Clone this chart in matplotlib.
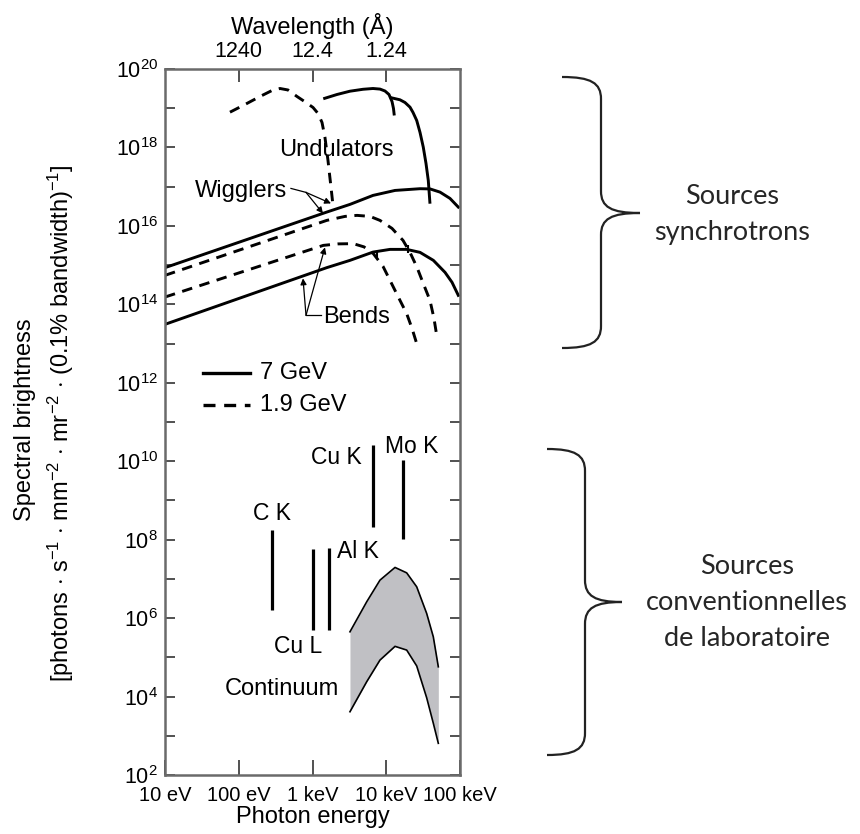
import numpy as np
import matplotlib
matplotlib.use("Agg")
import matplotlib.pyplot as plt
from matplotlib.ticker import FixedLocator, FixedFormatter, NullLocator, LogLocator, NullFormatter
from matplotlib.path import Path
from matplotlib.patches import PathPatch

plt.rcParams['font.family'] = ['Liberation Sans', 'DejaVu Sans']
plt.rcParams['mathtext.fontset'] = 'custom'
plt.rcParams['mathtext.rm'] = 'Liberation Sans'
plt.rcParams['mathtext.it'] = 'Liberation Sans:italic'
plt.rcParams['mathtext.bf'] = 'Liberation Sans:bold'

# ---------------- data (log10 of photon energy in eV, log10 of brightness) -------------
und7a_logE = [3.146, 3.332, 3.508, 3.685, 3.820, 3.915, 3.983, 4.037, 4.078, 4.098, 4.109]
und7a_logB = [19.241, 19.350, 19.434, 19.483, 19.503, 19.488, 19.439, 19.350, 19.172, 18.994, 18.815]
und7b_logE = [4.051, 4.186, 4.254, 4.322, 4.363, 4.413, 4.458, 4.502, 4.539, 4.570, 4.593]
und7b_logB = [19.274, 19.215, 19.146, 19.027, 18.892, 18.688, 18.382, 18.008, 17.592, 17.159, 16.566]
und19_logE = [1.881, 2.085, 2.288, 2.451, 2.559, 2.668, 2.790, 2.912, 3.007, 3.075, 3.129, 3.169, 3.210, 3.251, 3.278]
und19_logB = [18.899, 19.096, 19.299, 19.452, 19.503, 19.465, 19.299, 19.146, 19.019, 18.866, 18.637, 18.255, 17.669, 16.981, 16.522]
wig7_logE = [1.0, 3.193, 3.508, 3.820, 4.119, 4.458, 4.593, 4.729, 4.864, 4.977]
wig7_logB = [14.935, 16.352, 16.548, 16.777, 16.904, 16.948, 16.943, 16.861, 16.701, 16.479]
wig19_logE = [1.0, 3.193, 3.441, 3.603, 3.780, 3.915, 4.078, 4.227, 4.322, 4.417, 4.512, 4.593, 4.647, 4.684]
wig19_logB = [14.739, 16.140, 16.242, 16.268, 16.242, 16.140, 15.936, 15.631, 15.325, 14.943, 14.484, 14.102, 13.643, 13.210]
bend7_logE = [1.0, 3.193, 3.508, 3.820, 4.051, 4.277, 4.458, 4.639, 4.797, 4.892, 4.977]
bend7_logB = [13.490, 14.935, 15.121, 15.332, 15.401, 15.401, 15.325, 15.121, 14.815, 14.561, 14.229]
bend19_logE = [1.0, 3.146, 3.346, 3.553, 3.698, 3.825, 3.956, 4.096, 4.186, 4.277, 4.349, 4.413]
bend19_logB = [14.186, 15.503, 15.541, 15.547, 15.465, 15.292, 14.968, 14.441, 14.102, 13.763, 13.389, 12.999]

# characteristic lines of laboratory sources
line_names = ["C K", "Cu L", "Al K", "Cu K", "Mo K"]
line_logE = [2.455, 3.011, 3.224, 3.824, 4.223]
line_logBmin = [6.204, 5.688, 5.688, 8.311, 8.013]
line_logBmax = [8.242, 7.750, 7.776, 10.408, 10.025]

# continuum band
cont_logE = [3.508, 3.735, 3.915, 4.119, 4.277, 4.413, 4.548, 4.638, 4.706]
cont_up_logB = [5.651, 6.416, 6.968, 7.292, 7.154, 6.798, 6.120, 5.524, 4.759]
cont_lo_logB = [3.613, 4.378, 4.930, 5.280, 5.185, 4.780, 3.970, 3.320, 2.808]

# axis ticks
x_ticks = [10, 100, 1000, 10000, 100000]
x_ticklabels = ["10 eV", "100 eV", "1 keV", "10 keV", "100 keV"]
top_ticks = [100, 1000, 10000]
top_ticklabels = ["1240", "12.4", "1.24"]
y_exponents = list(range(2, 21))

def p(v):
    return 10.0 ** np.asarray(v)

# ---------------- figure ----------------
W, H = 860, 834
fig = plt.figure(figsize=(W / 100, H / 100), dpi=100)
ax = fig.add_axes([165 / W, 1 - 775 / H, 295 / W, 706 / H])
ax.set_xscale('log')
ax.set_yscale('log')
ax.set_xlim(10, 1e5)
ax.set_ylim(1e2, 1e20)

LW = 2.1
DASH = (0, (3.6, 2.6))
k = 'black'
ax.plot(p(und7a_logE), p(und7a_logB), color=k, lw=LW, solid_capstyle='butt')
ax.plot(p(und7b_logE), p(und7b_logB), color=k, lw=LW, solid_capstyle='butt')
ax.plot(p(und19_logE), p(und19_logB), color=k, lw=LW, ls=DASH)
ax.plot(p(wig7_logE), p(wig7_logB), color=k, lw=LW)
ax.plot(p(wig19_logE), p(wig19_logB), color=k, lw=LW, ls=DASH)
ax.plot(p(bend7_logE), p(bend7_logB), color=k, lw=LW)
ax.plot(p(bend19_logE), p(bend19_logB), color=k, lw=LW, ls=DASH)

# small critical-energy marks
ax.vlines(p([4.295, 3.870]), p([15.32, 15.17]), p([15.52, 15.36]), color=k, lw=1.5)

# lab lines
ax.vlines(p(line_logE), p(line_logBmin), p(line_logBmax), color=k, lw=2.3)

# continuum
ax.fill_between(p(cont_logE), p(cont_lo_logB), p(cont_up_logB), color='#c0c0c4', lw=0)
ax.plot(p(cont_logE), p(cont_up_logB), color=k, lw=1.2)
ax.plot(p(cont_logE), p(cont_lo_logB), color=k, lw=1.2)

FS = 17
# text labels
ax.text(p(3.328), p(17.924), "Undulators", ha='center', va='center', fontsize=FS)
ax.text(p(1.407), p(16.879), "Wigglers", ha='left', va='center', fontsize=FS)
ax.text(p(3.142), p(13.676), "Bends", ha='left', va='center', fontsize=FS)
lab_text_pos = [(2.447, 8.675), (2.807, 5.269), (3.621, 7.689), (3.328, 10.094), (4.345, 10.382)]
for name, (lx, ly) in zip(line_names, lab_text_pos):
    ax.text(p(lx), p(ly), name, ha='center', va='center', fontsize=16.5)
ax.text(p(2.582), p(4.184), "Continuum", ha='center', va='center', fontsize=FS)

# wiggler pointers
ax.plot(p([2.708, 2.912]), p([16.955, 16.854]), color=k, lw=0.9)
for hx, hy in [(3.251, 16.573), (3.142, 16.318)]:
    ax.annotate('', xy=(p(hx), p(hy)), xytext=(p(2.912), p(16.854)),
                arrowprops=dict(arrowstyle='-|>', color=k, lw=0.9, mutation_scale=9,
                                shrinkA=0, shrinkB=0))
# bend pointers
ax.plot(p([2.912, 3.115]), p([13.720, 13.720]), color=k, lw=0.9)
for hx, hy in [(2.871, 14.662), (3.169, 15.452)]:
    ax.annotate('', xy=(p(hx), p(hy)), xytext=(p(2.912), p(13.720)),
                arrowprops=dict(arrowstyle='-|>', color=k, lw=0.9, mutation_scale=9,
                                shrinkA=0, shrinkB=0))

# legend (manual)
ax.plot([0.129, 0.288], [0.570, 0.570], transform=ax.transAxes, color=k, lw=2.4)
ax.plot([0.129, 0.288], [0.524, 0.524], transform=ax.transAxes, color=k, lw=2.4, ls=DASH)
ax.text(0.322, 0.570, "7 GeV", transform=ax.transAxes, ha='left', va='center', fontsize=FS)
ax.text(0.322, 0.524, "1.9 GeV", transform=ax.transAxes, ha='left', va='center', fontsize=FS)

# ---------------- axes styling ----------------
for s in ax.spines.values():
    s.set_color('#6a6a6a')
    s.set_linewidth(1.8)

ax.yaxis.set_major_locator(FixedLocator(p(y_exponents)))
ax.yaxis.set_major_formatter(FixedFormatter(
    [r'$\mathregular{10^{%d}}$' % e if e % 2 == 0 else '' for e in y_exponents]))
ax.yaxis.set_minor_locator(NullLocator())
ax.tick_params(axis='y', which='major', direction='in', length=7.5, width=1.2,
               left=True, right=True, labelsize=15.5, pad=5, color='#333333')

ax.xaxis.set_major_locator(FixedLocator(x_ticks))
ax.xaxis.set_major_formatter(FixedFormatter(x_ticklabels))
ax.xaxis.set_minor_locator(LogLocator(base=10, subs=np.arange(2, 10)))
ax.xaxis.set_minor_formatter(NullFormatter())
ax.tick_params(axis='x', which='major', direction='in', length=10.5, width=1.2,
               labelsize=14.5, pad=8, color='#333333', top=False)
ax.tick_params(axis='x', which='minor', direction='in', length=5.5, width=1.0,
               color='#333333', top=False)
ax.set_xlabel("Photon energy", fontsize=17, labelpad=1)

sec = ax.secondary_xaxis('top')
sec.set_xticks(top_ticks)
sec.set_xticklabels(top_ticklabels)
sec.xaxis.set_minor_locator(NullLocator())
sec.tick_params(axis='x', direction='in', length=9, width=1.2, labelsize=15.5, pad=5, color='#333333')
sec.spines['top'].set_visible(False)
sec.set_xlabel("Wavelength (Å)", fontsize=17, labelpad=5)

# ---------------- overlay (pixel coordinates) ----------------
ov = fig.add_axes([0, 0, 1, 1], zorder=-1)
ov.set_xlim(0, W)
ov.set_ylim(H, 0)
ov.axis('off')

ov.text(25, 420, "Spectral brightness", rotation=90, ha='center', va='center', fontsize=17)
ov.text(61, 423,
        r"[photons $\cdot$ s$^{-1}$ $\cdot$ mm$^{-2}$ $\cdot$ mr$^{-2}$ $\cdot$ (0.1% bandwidth)$^{-1}$]",
        rotation=90, ha='center', va='center', fontsize=17)

def brace(x_end, x_mid, x_tip, y_top, y_tip, y_bot, r=22):
    verts = [
        (x_end, y_top), (x_mid - 10, y_top), (x_mid, y_top + 6), (x_mid, y_top + r),
        (x_mid, y_tip - r),
        (x_mid, y_tip - 6), (x_mid + 10, y_tip), (x_tip, y_tip),
        (x_mid + 10, y_tip), (x_mid, y_tip + 6), (x_mid, y_tip + r),
        (x_mid, y_bot - r),
        (x_mid, y_bot - 6), (x_mid - 10, y_bot), (x_end, y_bot),
    ]
    codes = [Path.MOVETO, Path.CURVE4, Path.CURVE4, Path.CURVE4,
             Path.LINETO,
             Path.CURVE4, Path.CURVE4, Path.CURVE4,
             Path.CURVE4, Path.CURVE4, Path.CURVE4,
             Path.LINETO,
             Path.CURVE4, Path.CURVE4, Path.CURVE4]
    ov.add_patch(PathPatch(Path(verts, codes), fill=False, lw=1.6, ec='#222222'))

brace(562, 601, 640, 77, 213, 348)
brace(547, 585, 622, 449, 602, 755)

rfont = ['Lato', 'DejaVu Sans']
ov.text(732, 214, "Sources\nsynchrotrons", ha='center', va='center', fontsize=19.5,
        family=rfont, linespacing=1.55, color='#262626')
ov.text(747, 603, "Sources\nconventionnelles\nde laboratoire", ha='center', va='center',
        fontsize=19.5, family=rfont, linespacing=1.55, color='#262626')

fig.savefig("out.png", dpi=100)
